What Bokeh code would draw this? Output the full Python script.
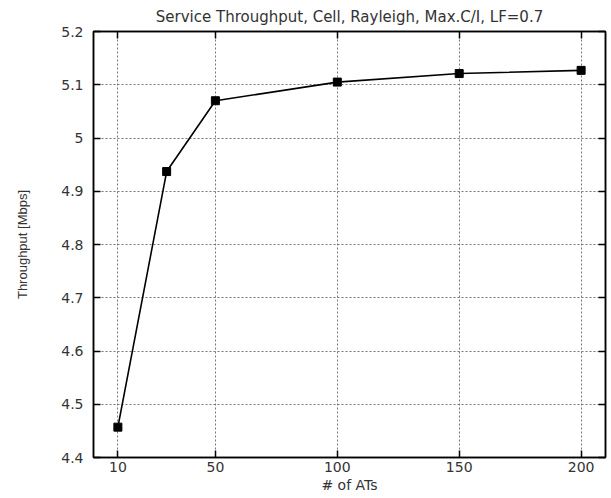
from bokeh.plotting import figure
from bokeh.models import (FixedTicker, LinearAxis, Range1d,
                          CustomJSTickFormatter, ColumnDataSource)
from bokeh.embed import file_html
from bokeh.resources import INLINE

# ---- data -------------------------------------------------------------
title_text = "Service Throughput, Cell, Rayleigh, Max.C/I, LF=0.7"
x_label = "# of ATs"
y_label = "Throughput [Mbps]"
num_ats = [10, 30, 50, 100, 150, 200]
throughput = [4.457, 4.937, 5.070, 5.105, 5.121, 5.127]
x_ticks = [10, 50, 100, 150, 200]
y_ticks = [4.4, 4.5, 4.6, 4.7, 4.8, 4.9, 5.0, 5.1, 5.2]
x_lim = (0, 210)
y_lim = (4.4, 5.2)

# ---- figure -----------------------------------------------------------
p = figure(width=611, height=498, output_backend="svg", toolbar_location=None,
           x_range=Range1d(*x_lim), y_range=Range1d(*y_lim),
           min_border_left=93, min_border_right=6,
           min_border_top=31, min_border_bottom=41,
           title=title_text, background_fill_color="white",
           border_fill_color="white")

p.title.align = "center"
p.title.text_font = "DejaVu Sans"
p.title.text_font_size = "15px"
p.title.text_font_style = "normal"
p.title.text_color = "#333333"
p.title.standoff = 11

p.outline_line_color = "black"
p.outline_line_width = 1.5

src = ColumnDataSource(dict(x=num_ats, y=throughput))
p.line("x", "y", source=src, line_color="black", line_width=1.6)
p.scatter("x", "y", source=src, marker="square", size=8,
          fill_color="black", line_color="black")

fmt = CustomJSTickFormatter(code="return String(Number(tick.toFixed(2)));")
blank = CustomJSTickFormatter(code="return '';")

def style_axis(ax, ticks, show_labels, font="DejaVu Sans", size="14px"):
    ax.ticker = FixedTicker(ticks=ticks)
    ax.major_tick_in = 7
    ax.major_tick_out = 0
    ax.minor_tick_in = 0
    ax.minor_tick_out = 0
    ax.axis_line_color = "black"
    ax.axis_line_width = 1.5
    ax.major_tick_line_color = "black"
    ax.major_tick_line_width = 1.5
    if show_labels:
        ax.major_label_text_font = font
        ax.major_label_text_font_size = size
        ax.major_label_text_color = "#333333"
        ax.formatter = fmt
    else:
        ax.formatter = blank
        ax.major_label_text_font_size = "1px"
        ax.major_label_standoff = 0

xa = p.xaxis[0]
style_axis(xa, x_ticks, True)
xa.major_label_standoff = 4
xa.axis_label = x_label
xa.axis_label_text_font = "DejaVu Sans"
xa.axis_label_text_font_size = "14px"
xa.axis_label_text_font_style = "normal"
xa.axis_label_text_color = "#333333"
xa.axis_label_standoff = 2

ya = p.yaxis[0]
style_axis(ya, y_ticks, True)
ya.major_label_standoff = 10
ya.axis_label = y_label
ya.axis_label_text_font = "Liberation Sans"
ya.axis_label_text_font_size = "13px"
ya.axis_label_text_font_style = "normal"
ya.axis_label_text_color = "#333333"
ya.axis_label_standoff = 28

top = LinearAxis()
style_axis(top, x_ticks, False)
p.add_layout(top, "above")
right = LinearAxis()
style_axis(right, y_ticks, False)
p.add_layout(right, "right")

p.xgrid.ticker = FixedTicker(ticks=x_ticks)
p.ygrid.ticker = FixedTicker(ticks=y_ticks)
for g in (p.xgrid[0], p.ygrid[0]):
    g.grid_line_color = "#777777"
    g.grid_line_dash = "2 2"
    g.grid_line_width = 1

open("out.html", "w").write(file_html(p, INLINE))
